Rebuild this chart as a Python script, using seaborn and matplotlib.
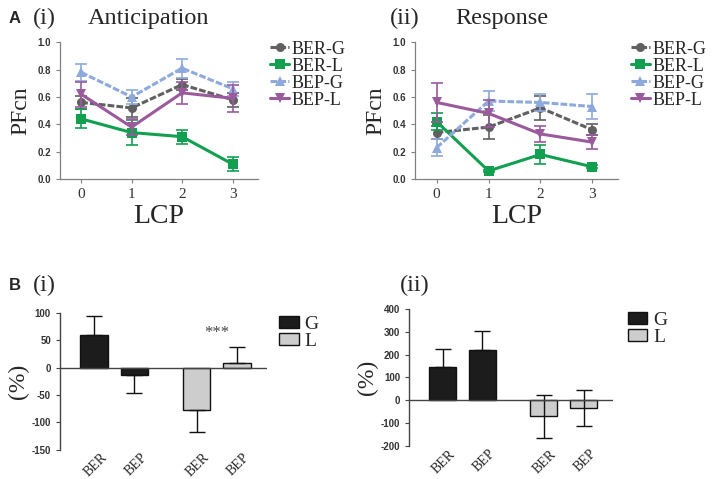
import matplotlib
matplotlib.use("Agg")
import matplotlib.pyplot as plt
import seaborn as sns

# ---- data ----
lcp = [0, 1, 2, 3]
series = ["BER-G", "BER-L", "BEP-G", "BEP-L"]

antic_mean = {
    "BER-G": [0.56, 0.52, 0.69, 0.58],
    "BER-L": [0.44, 0.34, 0.31, 0.11],
    "BEP-G": [0.78, 0.60, 0.81, 0.66],
    "BEP-L": [0.62, 0.38, 0.63, 0.59],
}
antic_err = {
    "BER-G": [0.05, 0.07, 0.04, 0.05],
    "BER-L": [0.07, 0.09, 0.05, 0.05],
    "BEP-G": [0.06, 0.05, 0.07, 0.05],
    "BEP-L": [0.09, 0.06, 0.08, 0.10],
}
resp_mean = {
    "BER-G": [0.34, 0.38, 0.52, 0.36],
    "BER-L": [0.42, 0.06, 0.18, 0.09],
    "BEP-G": [0.23, 0.57, 0.56, 0.53],
    "BEP-L": [0.56, 0.48, 0.33, 0.27],
}
resp_err = {
    "BER-G": [0.05, 0.09, 0.09, 0.04],
    "BER-L": [0.06, 0.01, 0.07, 0.01],
    "BEP-G": [0.06, 0.07, 0.06, 0.09],
    "BEP-L": [0.14, 0.10, 0.06, 0.05],
}

bar_labels = ["BER", "BEP", "BER", "BEP"]
bar_group = ["G", "G", "L", "L"]
b1_vals = [60, -13, -77, 9]
b1_err_lo = [0, 33, 40, 0]
b1_err_hi = [35, 0, 0, 29]
b2_vals = [145, 220, -70, -35]
b2_err_lo = [0, 0, 95, 78]
b2_err_hi = [80, 85, 95, 80]

# ---- styling ----
sns.set_theme(style="white")
plt.rcParams["axes.unicode_minus"] = False
serif = ["Liberation Serif", "DejaVu Serif"]
sans = ["Liberation Sans", "DejaVu Sans"]

colors = {"BER-G": "#606060", "BER-L": "#12a050", "BEP-G": "#8eaadc", "BEP-L": "#9a5a9c"}
markers = {"BER-G": "o", "BER-L": "s", "BEP-G": "^", "BEP-L": "v"}
styles = {"BER-G": (0, (2.2, 0.7)), "BER-L": "-", "BEP-G": (0, (2.2, 0.7)), "BEP-L": "-"}
bar_colors = {"G": "#1c1c1c", "L": "#cdcdcd"}
bar_pos = [0, 1, 2.55, 3.55]

fig = plt.figure(figsize=(7.14, 4.79), dpi=100)


def line_panel(rect, means, errs):
    ax = fig.add_axes(rect)
    for s in series:
        sns.lineplot(x=lcp, y=means[s], ax=ax, color=colors[s], marker=markers[s],
                     markersize=6.5, markeredgewidth=0, linewidth=2.2,
                     linestyle=styles[s], label=s)
        ax.errorbar(lcp, means[s], yerr=errs[s], fmt="none", ecolor=colors[s],
                    elinewidth=1.2, capsize=4, capthick=1.2)
    ax.set_xlim(-0.42, 3.5)
    ax.set_ylim(0, 1.0)
    ax.set_yticks([0, 0.2, 0.4, 0.6, 0.8, 1.0])
    ax.set_yticklabels(["0.0", "0.2", "0.4", "0.6", "0.8", "1.0"])
    ax.set_xticks(lcp)
    for sp in ["top", "right"]:
        ax.spines[sp].set_visible(False)
    for sp in ["left", "bottom"]:
        ax.spines[sp].set_color("#808080")
        ax.spines[sp].set_linewidth(0.9)
    ax.tick_params(axis="both", direction="out", length=3, width=0.8, color="#808080",
                   left=True, bottom=True)
    for t in ax.get_yticklabels():
        t.set_fontfamily(sans)
        t.set_fontweight("bold")
        t.set_fontsize(7)
        t.set_color("#333333")
    for t in ax.get_xticklabels():
        t.set_fontfamily(serif)
        t.set_fontsize(11)
        t.set_color("#333333")
    ax.set_xlabel("LCP", fontfamily=serif, fontsize=20, labelpad=2)
    ax.set_ylabel("PFcn", fontfamily=serif, fontsize=17, labelpad=4)
    ax.legend(loc="upper left", bbox_to_anchor=(1.06, 1.01), frameon=False,
              prop={"family": serif, "size": 13}, handlelength=1.1,
              handletextpad=0.1, labelspacing=0.0, borderaxespad=0, borderpad=0)
    return ax


def bar_panel(rect, vals, lo, hi, ylim, yticks, leg_x):
    ax = fig.add_axes(rect)
    cols = [bar_colors[g] for g in bar_group]
    ax.bar(bar_pos, vals, width=0.68, color=cols, edgecolor="#111111", linewidth=1.0)
    ax.errorbar(bar_pos, vals, yerr=[lo, hi], fmt="none", ecolor="#111111",
                elinewidth=1.0, capsize=6, capthick=1.0)
    ax.axhline(0, color="#444444", linewidth=1.0, xmin=0, xmax=1)
    ax.set_xlim(-0.85, 4.3)
    ax.set_ylim(*ylim)
    ax.set_yticks(yticks)
    ax.set_yticklabels([str(v) for v in yticks])
    ax.set_xticks([p + 0.15 for p in bar_pos])
    ax.set_xticklabels(bar_labels, rotation=45, ha="right", rotation_mode="anchor",
                       fontfamily=serif, fontsize=10)
    for sp in ["top", "right", "bottom"]:
        ax.spines[sp].set_visible(False)
    ax.spines["left"].set_color("#444444")
    ax.spines["left"].set_linewidth(1.0)
    ax.tick_params(axis="y", direction="out", length=3, width=0.8, color="#444444", left=True)
    ax.tick_params(axis="x", length=0, pad=1)
    for t in ax.get_yticklabels():
        t.set_fontfamily(sans)
        t.set_fontweight("bold")
        t.set_fontsize(7)
        t.set_color("#333333")
    ax.set_ylabel("(%)", fontfamily=serif, fontsize=17, labelpad=2)
    handles = [plt.Rectangle((0, 0), 1, 1, facecolor=bar_colors[g], edgecolor="#111111",
                             linewidth=1.0) for g in ["G", "L"]]
    ax.legend(handles, ["G", "L"], loc="upper left", bbox_to_anchor=(leg_x, 0.98),
              frameon=False, prop={"family": serif, "size": 14}, handlelength=1.0,
              handleheight=0.55, handletextpad=0.3, labelspacing=0.0,
              borderaxespad=0, borderpad=0)
    return ax


line_panel([0.084, 0.626, 0.277, 0.286], antic_mean, antic_err)
line_panel([0.581, 0.626, 0.285, 0.286], resp_mean, resp_err)

ax_b1 = bar_panel([0.084, 0.061, 0.29, 0.286], b1_vals, b1_err_lo, b1_err_hi,
                  (-150, 100), [100, 50, 0, -50, -100, -150], 1.06)
ax_b1.text((bar_pos[2] + bar_pos[3]) / 2, 64, "***", ha="center", va="center",
           fontfamily=serif, fontsize=12, color="#444444")
bar_panel([0.573, 0.069, 0.286, 0.286], b2_vals, b2_err_lo, b2_err_hi,
          (-200, 400), [400, 300, 200, 100, 0, -100, -200], 1.07)

# panel titles
fig.text(0.012, 0.962, "A", fontfamily=sans, fontweight="bold", fontsize=12, va="center")
fig.text(0.046, 0.962, "(i)", fontfamily=serif, fontsize=17.5, va="center")
fig.text(0.123, 0.962, "Anticipation", fontfamily=serif, fontsize=17.5, va="center")
fig.text(0.546, 0.962, "(ii)", fontfamily=serif, fontsize=17.5, va="center")
fig.text(0.637, 0.962, "Response", fontfamily=serif, fontsize=17.5, va="center")
fig.text(0.012, 0.405, "B", fontfamily=sans, fontweight="bold", fontsize=12, va="center")
fig.text(0.046, 0.405, "(i)", fontfamily=serif, fontsize=17.5, va="center")
fig.text(0.56, 0.405, "(ii)", fontfamily=serif, fontsize=17.5, va="center")

fig.savefig("out.png", dpi=100)
